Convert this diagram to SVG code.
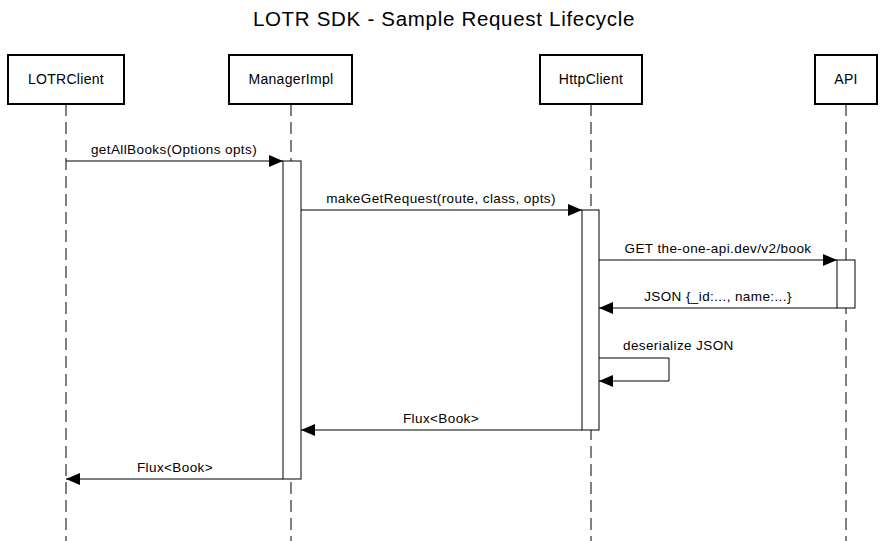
<svg xmlns="http://www.w3.org/2000/svg" width="886" height="541" viewBox="0 0 886 541">
<style>
text{font-family:"Liberation Sans",Arial,sans-serif;fill:#000}
.title{font-size:20.5px;letter-spacing:0.7px}
.pl{font-size:14px;letter-spacing:0.3px}
.ml{font-size:13.5px;letter-spacing:0.4px}
.box{fill:#fff;stroke:#000;stroke-width:2}
.life{stroke:#000;stroke-width:1;stroke-dasharray:12 6;fill:none}
.act{fill:#fff;stroke:#000;stroke-width:1}
.msg{stroke:#000;stroke-width:1;fill:none}
</style>
<defs>
<marker id="ah" viewBox="0 0 14 12" refX="14" refY="6" markerWidth="14" markerHeight="12" markerUnits="userSpaceOnUse" orient="auto">
<path d="M0,0 L14,6 L0,12 Z" fill="#000"/>
</marker>
</defs>
<rect width="886" height="541" fill="#fff"/>
<text class="title" x="444" y="26" text-anchor="middle">LOTR SDK - Sample Request Lifecycle</text>
<g id="lifelines">
<line class="life" x1="66" y1="104" x2="66" y2="541"/>
<line class="life" x1="291" y1="104" x2="291" y2="541"/>
<line class="life" x1="591" y1="104" x2="591" y2="541"/>
<line class="life" x1="846" y1="104" x2="846" y2="541"/>
</g>
<g id="LOTRClient"><rect class="box" x="8" y="55" width="116" height="49"/><text class="pl" x="66" y="84" text-anchor="middle">LOTRClient</text></g>
<g id="ManagerImpl"><rect class="box" x="229" y="55" width="123" height="49"/><text class="pl" x="291" y="84" text-anchor="middle">ManagerImpl</text></g>
<g id="HttpClient"><rect class="box" x="540" y="55" width="102" height="49"/><text class="pl" x="591" y="84" text-anchor="middle">HttpClient</text></g>
<g id="API"><rect class="box" x="815" y="55" width="62" height="49"/><text class="pl" x="846" y="84" text-anchor="middle">API</text></g>
<g id="activations">
<rect class="act" x="283" y="161" width="18" height="318"/>
<rect class="act" x="582" y="210" width="17" height="220"/>
<rect class="act" x="837" y="260" width="18" height="48"/>
</g>
<g id="connectors">
<line class="msg" x1="66" y1="161" x2="283" y2="161" marker-end="url(#ah)"/>
<text class="ml" x="174" y="154" text-anchor="middle">getAllBooks(Options opts)</text>
<line class="msg" x1="301" y1="210" x2="582" y2="210" marker-end="url(#ah)"/>
<text class="ml" x="441" y="203" text-anchor="middle">makeGetRequest(route, class, opts)</text>
<line class="msg" x1="599" y1="260" x2="837" y2="260" marker-end="url(#ah)"/>
<text class="ml" x="718" y="253" text-anchor="middle">GET the-one-api.dev/v2/book</text>
<line class="msg" x1="837" y1="308" x2="599" y2="308" marker-end="url(#ah)"/>
<text class="ml" x="718" y="301" text-anchor="middle">JSON {_id:..., name:...}</text>
<path class="msg" d="M599,358 H669 V381 H599" marker-end="url(#ah)"/>
<text class="ml" x="623" y="350">deserialize JSON</text>
<line class="msg" x1="582" y1="430" x2="301" y2="430" marker-end="url(#ah)"/>
<text class="ml" x="441" y="423" text-anchor="middle">Flux&lt;Book&gt;</text>
<line class="msg" x1="283" y1="479" x2="66" y2="479" marker-end="url(#ah)"/>
<text class="ml" x="175" y="472" text-anchor="middle">Flux&lt;Book&gt;</text>
</g>
</svg>
